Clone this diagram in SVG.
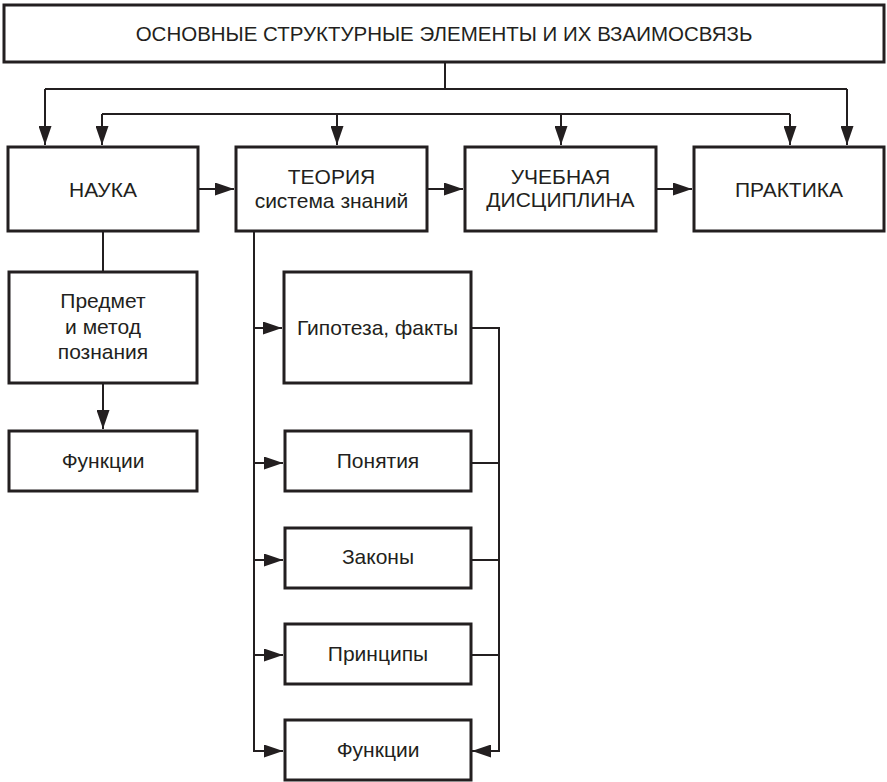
<svg xmlns="http://www.w3.org/2000/svg" width="887" height="782" viewBox="0 0 887 782">
<defs>
<marker id="ah" markerUnits="userSpaceOnUse" markerWidth="19" markerHeight="13" refX="19" refY="6.5" orient="auto">
<path d="M0,0 L19,6.5 L0,13 z" fill="#231f20"/>
</marker>
<style>
.box{fill:#fff;stroke:#231f20;stroke-width:3}
.t{font-family:"Liberation Sans",Arial,sans-serif;font-size:21px;fill:#231f20;text-anchor:middle}
.h{font-size:20.5px}
.c{fill:none;stroke:#231f20;stroke-width:2}
.a{marker-end:url(#ah)}
</style>
</defs>
<rect width="887" height="782" fill="#fff"/>
<g id="connectors">
<path class="c" d="M445,63 V89 M45,89 H847 M102,114 H790"/>
<path class="c a" d="M45,89 V145"/>
<path class="c a" d="M847,89 V145"/>
<path class="c a" d="M102,114 V145"/>
<path class="c a" d="M337,114 V145"/>
<path class="c a" d="M561,114 V145"/>
<path class="c a" d="M790,114 V145"/>
<path class="c a" d="M199,189 H234"/>
<path class="c a" d="M428,189 H463"/>
<path class="c a" d="M657,189 H692"/>
<path class="c" d="M103,231 V271"/>
<path class="c a" d="M103,383 V429"/>
<path class="c a" d="M254,231 V751 H283"/>
<path class="c a" d="M254,328 H282"/>
<path class="c a" d="M254,463 H283"/>
<path class="c a" d="M254,560 H283"/>
<path class="c a" d="M254,655 H283"/>
<path class="c a" d="M471,328 H499 V751 H472"/>
<path class="c" d="M471,463 H499 M471,560 H499 M471,655 H499"/>
</g>
<g id="title"><rect class="box" x="4" y="5" width="880" height="57"/><text class="t h" x="444" y="41">ОСНОВНЫЕ СТРУКТУРНЫЕ ЭЛЕМЕНТЫ И ИХ ВЗАИМОСВЯЗЬ</text></g>
<g id="nauka"><rect class="box" x="8" y="147" width="190" height="84"/><text class="t" x="103" y="197">НАУКА</text></g>
<g id="teoriya"><rect class="box" x="236" y="147" width="191" height="84"/><text class="t" x="331.5" y="184">ТЕОРИЯ</text><text class="t" x="331.5" y="208">система знаний</text></g>
<g id="disciplina"><rect class="box" x="465" y="147" width="191" height="84"/><text class="t" x="560.5" y="184">УЧЕБНАЯ</text><text class="t" x="560.5" y="207">ДИСЦИПЛИНА</text></g>
<g id="praktika"><rect class="box" x="694" y="147" width="190" height="84"/><text class="t" x="789" y="197">ПРАКТИКА</text></g>
<g id="predmet"><rect class="box" x="9" y="272" width="188" height="111"/><text class="t" x="103" y="308">Предмет</text><text class="t" x="103" y="334">и метод</text><text class="t" x="103" y="359">познания</text></g>
<g id="funkcii1"><rect class="box" x="9" y="431" width="188" height="60"/><text class="t" x="103" y="468">Функции</text></g>
<g id="gipoteza"><rect class="box" x="284" y="272" width="187" height="111"/><text class="t" x="377.5" y="335">Гипотеза, факты</text></g>
<g id="ponyatiya"><rect class="box" x="285" y="431" width="186" height="60"/><text class="t" x="378" y="468">Понятия</text></g>
<g id="zakony"><rect class="box" x="285" y="528" width="186" height="60"/><text class="t" x="378" y="564">Законы</text></g>
<g id="principy"><rect class="box" x="285" y="624" width="186" height="60"/><text class="t" x="378" y="661">Принципы</text></g>
<g id="funkcii2"><rect class="box" x="285" y="720" width="186" height="60"/><text class="t" x="378" y="757">Функции</text></g>
</svg>
